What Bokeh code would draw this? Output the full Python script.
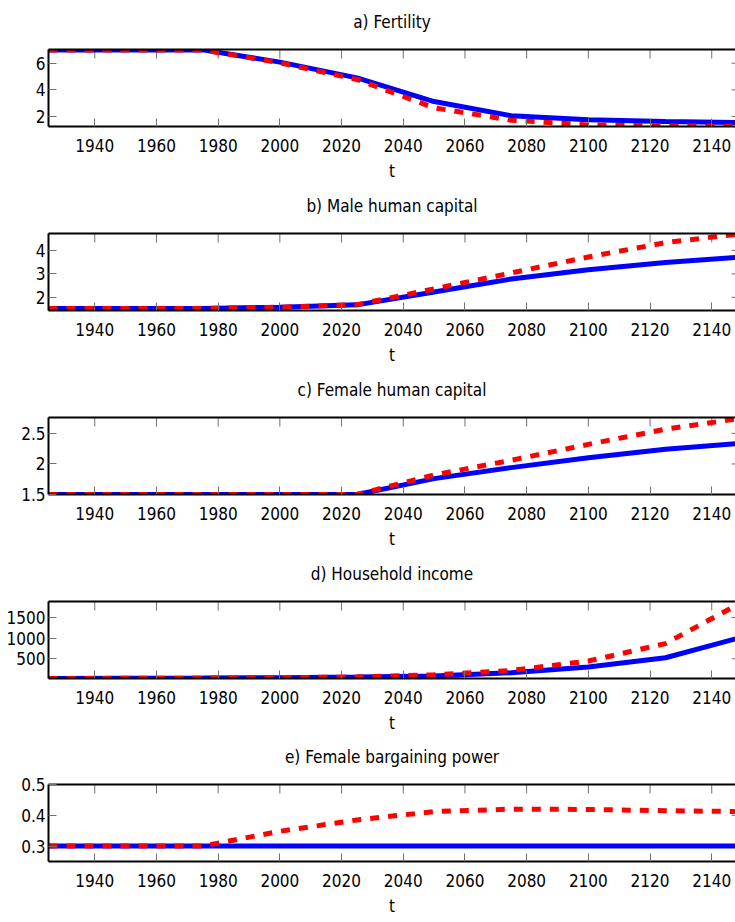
from bokeh.plotting import figure
from bokeh.layouts import column
from bokeh.models import Range1d, FixedTicker, LinearAxis
from bokeh.embed import file_html
from bokeh.resources import INLINE

# ---- data ----
years = [1925, 1950, 1975, 2000, 2025, 2050, 2075, 2100, 2125, 2150]

fert_blue = [7.0, 7.0, 7.0, 6.08, 4.90, 3.12, 2.05, 1.76, 1.62, 1.54]
fert_red = [7.0, 7.0, 7.0, 6.03, 4.78, 2.65, 1.72, 1.36, 1.29, 1.25]

male_blue = [1.52, 1.52, 1.53, 1.58, 1.68, 2.23, 2.78, 3.18, 3.48, 3.72]
male_red = [1.52, 1.52, 1.53, 1.58, 1.69, 2.36, 3.04, 3.72, 4.33, 4.72]

fem_blue = [1.5, 1.5, 1.5, 1.5, 1.5, 1.76, 1.94, 2.10, 2.24, 2.34]
fem_red = [1.5, 1.5, 1.5, 1.5, 1.5, 1.82, 2.06, 2.32, 2.57, 2.75]

inc_blue = [20, 24, 30, 40, 55, 78, 158, 297, 524, 1029]
inc_red = [20, 24, 30, 40, 58, 112, 215, 444, 868, 1880]

bp_blue = [0.3, 0.3, 0.3, 0.3, 0.3, 0.3, 0.3, 0.3, 0.3, 0.3]
bp_red = [0.3, 0.3, 0.3, 0.348, 0.385, 0.412, 0.42, 0.419, 0.415, 0.412]

titles = ["a) Fertility", "b) Male human capital", "c) Female human capital",
          "d) Household income", "e) Female bargaining power"]
x_ticks = [1940, 1960, 1980, 2000, 2020, 2040, 2060, 2080, 2100, 2120, 2140]
y_ticks = [[2, 4, 6], [2, 3, 4], [1.5, 2, 2.5], [500, 1000, 1500], [0.3, 0.4, 0.5]]
y_tick_labels = [["2", "4", "6"], ["2", "3", "4"], ["1.5", "2", "2.5"],
                 ["500", "1000", "1500"], ["0.3", "0.4", "0.5"]]
y_limits = [(1.245, 7.03), (1.44, 4.72), (1.5, 2.76), (20, 1890), (0.25, 0.5)]
x_limits = (1925, 2147.7)

series = [(fert_blue, fert_red), (male_blue, male_red), (fem_blue, fem_red),
          (inc_blue, inc_red), (bp_blue, bp_red)]

FONT = "DejaVu Sans Condensed"
FS = "17px"
TICK_COLOR = "#707070"
FRAME_W = 687
FRAME_H = 77


def style_axis(ax, ticks, tick_in=8):
    ax.ticker = FixedTicker(ticks=ticks)
    ax.minor_tick_line_color = None
    ax.major_tick_in = tick_in
    ax.major_tick_out = 0
    ax.major_tick_line_color = TICK_COLOR
    ax.major_tick_line_width = 1
    ax.axis_line_color = "black"
    ax.axis_line_width = 2
    ax.major_label_text_font = FONT
    ax.major_label_text_color = "black"
    ax.major_label_text_font_size = FS
    ax.axis_label_text_font = FONT
    ax.axis_label_text_font_size = FS
    ax.axis_label_text_font_style = "normal"
    ax.axis_label_text_color = "black"


heights = [184, 184, 184, 184, 186]
figs = []
for i in range(5):
    h = heights[i]
    top = 49 if i < 4 else 48
    y0, y1 = y_limits[i]
    x0, x1 = x_limits
    p = figure(width=735, height=h, x_range=Range1d(x0, x1),
               y_range=Range1d(y0, y1), output_backend="svg",
               toolbar_location=None, min_border_left=48, min_border_right=0,
               min_border_top=top, min_border_bottom=h - top - FRAME_H)
    p.outline_line_color = None
    p.grid.visible = False
    p.background_fill_color = "white"
    p.border_fill_color = "white"

    xb = p.xaxis[0]
    style_axis(xb, x_ticks)
    xb.major_label_standoff = 12
    xb.axis_label = "t"
    xb.axis_label_standoff = 6

    yl = p.yaxis[0]
    style_axis(yl, y_ticks[i])
    yl.major_label_standoff = 3
    yl.major_label_overrides = {t: s for t, s in zip(y_ticks[i], y_tick_labels[i])}

    # top border of the box; it carries the panel title as its label
    xt = LinearAxis()
    style_axis(xt, [])
    xt.axis_label = titles[i]
    xt.axis_label_standoff = 18
    p.add_layout(xt, "above")

    # inward ticks on the top border
    dy = (y1 - y0) * 9.0 / FRAME_H
    p.segment(x0=x_ticks, y0=[y1] * len(x_ticks), x1=x_ticks, y1=[y1 - dy] * len(x_ticks),
              line_color=TICK_COLOR, line_width=1)
    # right-hand inward ticks (right border lies just outside the window)
    dx = (x1 - x0) * 4.0 / FRAME_W
    yt = y_ticks[i]
    p.segment(x0=[x1] * len(yt), y0=yt, x1=[x1 - dx] * len(yt), y1=yt,
              line_color=TICK_COLOR, line_width=1)

    blue, red = series[i]
    p.line(years, blue, line_color="#0000ff", line_width=5)
    p.line(years, red, line_color="#ff0000", line_width=5, line_dash="9 9")
    figs.append(p)

layout = column(*figs, spacing=0)
open("out.html", "w").write(file_html(layout, INLINE))
